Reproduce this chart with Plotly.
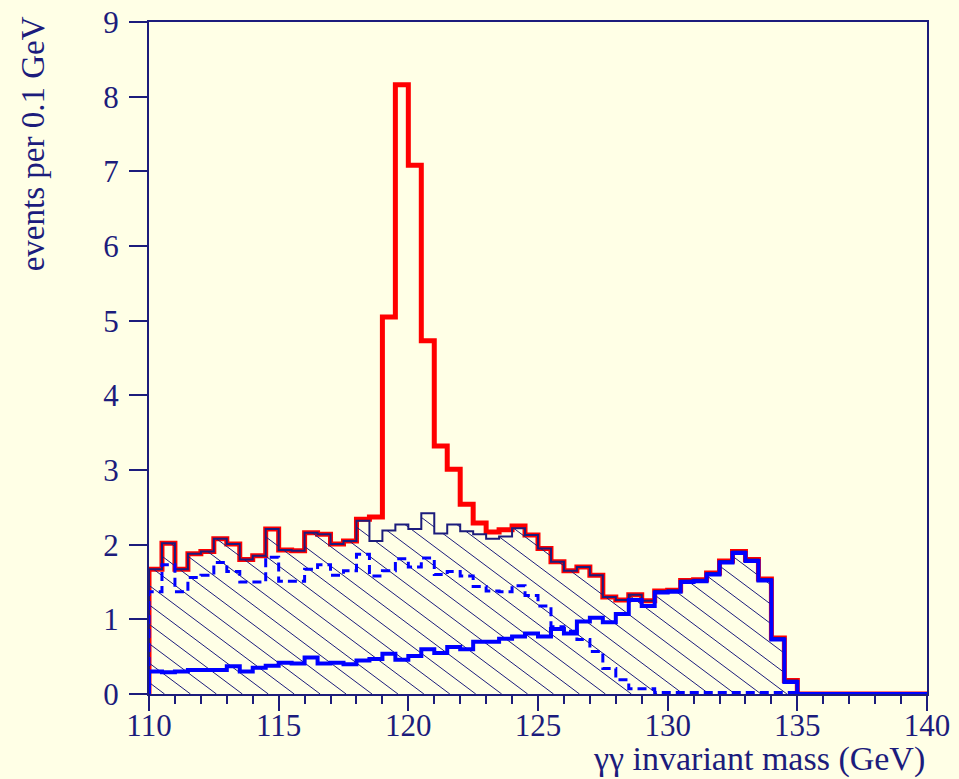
import numpy as np
import plotly.graph_objects as go

# 0.5 GeV bins from 110 to 140 GeV (left edges)
bin_edges = [110 + 0.5 * i for i in range(61)]

# falling background component (dashed blue)
bkg_falling = [
    1.37, 1.73, 1.37, 1.56, 1.59, 1.76, 1.64, 1.50, 1.50, 1.83,
    1.51, 1.51, 1.67, 1.73, 1.59, 1.65, 1.87, 1.58, 1.65, 1.81,
    1.70, 1.82, 1.60, 1.64, 1.58, 1.44, 1.38, 1.37, 1.45, 1.32,
    1.18, 0.90, 0.84, 0.73, 0.57, 0.34, 0.19, 0.07, 0.07, 0.02,
    0.02, 0.02, 0.02, 0.02, 0.02, 0.02, 0.02, 0.02, 0.02, 0.02,
    0.00, 0.00, 0.00, 0.00, 0.00, 0.00, 0.00, 0.00, 0.00, 0.00,
]

# rising background component (solid blue)
bkg_rising = [
    0.30, 0.29, 0.30, 0.32, 0.32, 0.32, 0.37, 0.30, 0.35, 0.38,
    0.42, 0.41, 0.49, 0.41, 0.42, 0.40, 0.45, 0.47, 0.54, 0.46,
    0.51, 0.60, 0.55, 0.63, 0.60, 0.70, 0.70, 0.74, 0.77, 0.81,
    0.77, 0.87, 0.81, 0.97, 1.02, 0.96, 1.07, 1.26, 1.18, 1.36,
    1.37, 1.50, 1.51, 1.60, 1.76, 1.89, 1.78, 1.52, 0.73, 0.16,
    0.00, 0.00, 0.00, 0.00, 0.00, 0.00, 0.00, 0.00, 0.00, 0.00,
]

# signal excess on top of the total background
signal = [0.0] * 60
signal_bins = {
    118.0: 0.02, 118.5: 0.32, 119.0: 2.86, 119.5: 5.89, 120.0: 4.87,
    120.5: 2.31, 121.0: 1.17, 121.5: 0.74, 122.0: 0.36, 122.5: 0.15,
    123.0: 0.09, 123.5: 0.09, 124.0: 0.03,
}
for m, v in signal_bins.items():
    signal[int(round((m - 110) / 0.5))] = v

x_ticks = [110, 115, 120, 125, 130, 135, 140]
y_ticks = list(range(10))

bkg_total = [a + b for a, b in zip(bkg_falling, bkg_rising)]
sig_total = [a + b for a, b in zip(bkg_total, signal)]

NAVY = "#1c1c7c"
BG = "#ffffe6"
FONT = "Liberation Serif, Times New Roman, serif"


def step(values):
    """x/y arrays for an hv step outline that starts from zero at 110."""
    xs = [bin_edges[0]] + bin_edges[:60] + [bin_edges[60]]
    ys = [0.0] + list(values) + [values[-1]]
    return xs, ys


def hatch(values, slope=0.26, spacing=1.0, phase=0.6):
    """Diagonal hatch segments clipped to the area under a step histogram."""
    hx, hy = [], []
    n0 = int(np.floor(110 - phase))
    n1 = int(np.ceil(140 + max(values) / slope))
    for n in range(n0, n1 + 1):
        x0 = n * spacing + phase  # where the line meets y = 0
        segs = []
        for i, h in enumerate(values):
            a, b = bin_edges[i], bin_edges[i + 1]
            lo = max(a, x0 - h / slope)
            hi = min(b, x0)
            if hi > lo and h > 0:
                if segs and abs(segs[-1][1] - lo) < 1e-9:
                    segs[-1][1] = hi
                else:
                    segs.append([lo, hi])
        for lo, hi in segs:
            hx += [lo, hi, None]
            hy += [slope * (x0 - lo), slope * (x0 - hi), None]
    return hx, hy


fig = go.Figure()

# signal + background (thick red)
sx, sy = step(sig_total)
fig.add_trace(go.Scatter(x=sx, y=sy, mode="lines", line_shape="hv",
                         line=dict(color="#ff0000", width=5), hoverinfo="skip"))

# hatched total background
hx, hy = hatch(bkg_total)
fig.add_trace(go.Scatter(x=hx, y=hy, mode="lines",
                         line=dict(color=NAVY, width=1), hoverinfo="skip"))
bx, by = step(bkg_total)
fig.add_trace(go.Scatter(x=bx, y=by, mode="lines", line_shape="hv",
                         line=dict(color=NAVY, width=2), hoverinfo="skip"))

# falling component (dashed)
fx, fy = step(bkg_falling)
fig.add_trace(go.Scatter(x=fx, y=fy, mode="lines", line_shape="hv",
                         line=dict(color="#0000ff", width=3, dash="9px,5px"),
                         hoverinfo="skip"))

# rising component (thick solid)
rx, ry = step(bkg_rising)
fig.add_trace(go.Scatter(x=rx, y=ry, mode="lines", line_shape="hv",
                         line=dict(color="#0000ff", width=4), hoverinfo="skip"))

fig.update_layout(
    width=959, height=779,
    margin=dict(l=149, r=32, t=22, b=85),
    paper_bgcolor=BG, plot_bgcolor=BG,
    showlegend=False,
    font=dict(family=FONT, color=NAVY, size=31),
    xaxis=dict(
        range=[110, 140], tickvals=x_ticks, ticktext=[str(t) for t in x_ticks],
        ticks="outside", ticklen=15, tickwidth=2, tickcolor=NAVY,
        ticklabelstandoff=-12, automargin=False,
        minor=dict(dtick=1, ticks="outside", ticklen=8, tickwidth=1.5, tickcolor=NAVY),
        showline=True, linecolor=NAVY, linewidth=2, mirror=True,
        showgrid=False, zeroline=False,
        tickfont=dict(family=FONT, size=31, color=NAVY),
    ),
    yaxis=dict(
        range=[0, 9], tickvals=y_ticks, ticktext=[str(t) for t in y_ticks],
        ticks="outside", ticklen=18, tickwidth=2, tickcolor=NAVY,
        ticklabelstandoff=4, automargin=False,
        showline=True, linecolor=NAVY, linewidth=2, mirror=True,
        showgrid=False, zeroline=False,
        tickfont=dict(family=FONT, size=31, color=NAVY),
    ),
    annotations=[
        dict(text="γγ invariant mass (GeV)", xref="paper", yref="paper",
             x=1.0, y=-0.097, xanchor="right", yanchor="middle", showarrow=False,
             font=dict(family=FONT, size=34, color=NAVY)),
        dict(text="events per 0.1 GeV", xref="paper", yref="paper",
             x=-0.148, y=1.012, xanchor="center", yanchor="top", textangle=-90,
             showarrow=False, font=dict(family=FONT, size=33, color=NAVY)),
    ],
)

fig.write_html("out.html")
